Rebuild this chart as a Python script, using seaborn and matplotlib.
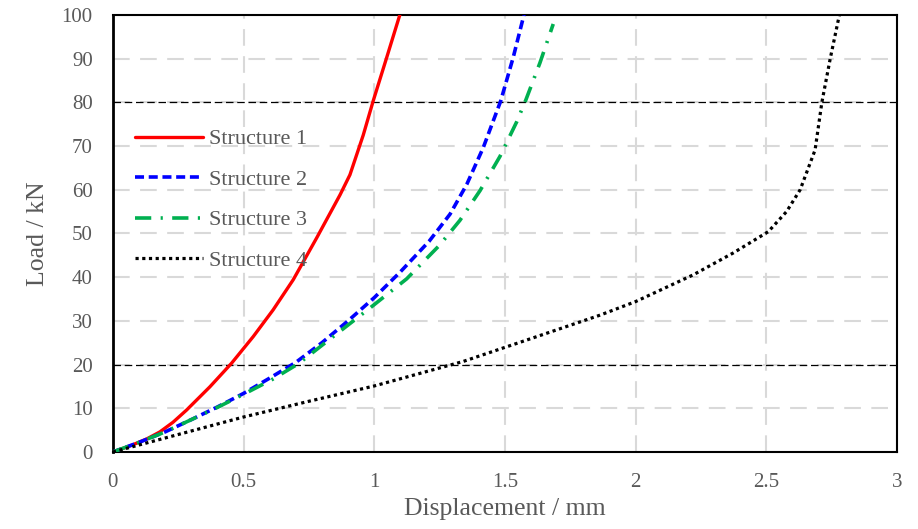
import numpy as np
import pandas as pd
import matplotlib
matplotlib.use("Agg")
import matplotlib.pyplot as plt
import seaborn as sns

# Load (kN) vs displacement (mm)
s1_disp = [0, 0.07, 0.13, 0.18, 0.23, 0.282, 0.371, 0.454, 0.537, 0.613, 0.69, 0.78, 0.869, 0.907, 0.958, 0.996, 1.047, 1.098]
s1_load = [0, 1.5, 3.0, 4.6, 6.8, 9.6, 14.9, 20.3, 26.4, 32.5, 39.4, 49.0, 58.8, 63.4, 72.5, 80.3, 90.1, 100]

s2_disp = [0, 0.1, 0.2, 0.3, 0.4, 0.5, 0.6, 0.7, 0.8, 0.9, 1.0, 1.1, 1.21, 1.29, 1.354, 1.417, 1.484, 1.532, 1.573]
s2_load = [0, 2.2, 4.6, 7.4, 10.3, 13.4, 16.9, 20.5, 25.0, 30.0, 35.3, 41.2, 48.2, 54.4, 61.2, 69.6, 80.3, 90.3, 100]

s3_disp = [0, 0.1, 0.2, 0.3, 0.4, 0.5, 0.61, 0.71, 0.83, 0.983, 1.124, 1.25, 1.328, 1.405, 1.481, 1.545, 1.58, 1.634, 1.685]
s3_load = [0, 2.2, 4.6, 7.4, 10.2, 13.2, 16.6, 20.2, 25.8, 32.9, 39.6, 47.3, 53.0, 59.8, 67.6, 75.5, 80.5, 89.0, 97.9]

s4_disp = [0, 0.25, 0.5, 0.75, 1.0, 1.34, 1.583, 1.864, 2.0, 2.22, 2.373, 2.508, 2.578, 2.63, 2.687, 2.713, 2.745, 2.78]
s4_load = [0, 4.0, 8.0, 11.6, 15.1, 20.7, 25.6, 31.3, 34.4, 40.5, 45.5, 50.4, 55.0, 60.0, 69.1, 80.0, 90.0, 100]

labels = ["Structure 1", "Structure 2", "Structure 3", "Structure 4"]
ref_loads = [20, 80]

sns.set_style("white")
plt.rcParams['font.family'] = ['Liberation Serif', 'DejaVu Serif']
grey = "#595959"

fig = plt.figure(figsize=(9.18, 5.29), dpi=100)
ax = fig.add_axes([0.123, 0.1456, 0.854, 0.8264])

ax.set_axisbelow(True)
ax.grid(True, color="#d9d9d9", linestyle=(0, (8, 5)), linewidth=1.5)

for y in ref_loads:
    ax.axhline(y, color="black", linestyle=(0, (6, 3)), linewidth=0.9, zorder=2)

styles = [
    dict(color="#ff0000", linestyle="-", linewidth=2.4),
    dict(color="#0000ff", linestyle=(0, (2.5, 1.3)), linewidth=2.6),
    dict(color="#00b050", linestyle=(0, (4.5, 2.6, 0.6, 2.6)), linewidth=2.6),
    dict(color="black", linestyle=(0, (1, 1.1)), linewidth=2.3),
]
series = [(s1_disp, s1_load), (s2_disp, s2_load), (s3_disp, s3_load), (s4_disp, s4_load)]

for (xd, yd), lab, st in zip(series, labels, styles):
    df = pd.DataFrame({"disp": xd, "load": yd})
    sns.lineplot(data=df, x="disp", y="load", sort=False, estimator=None,
                 ax=ax, label=lab, zorder=3, **st)

ax.set_xlim(0, 3)
ax.set_ylim(0, 100)
ax.set_xticks(np.arange(0, 3.01, 0.5))
ax.set_xticklabels(["0", "0.5", "1", "1.5", "2", "2.5", "3"])
ax.set_yticks(np.arange(0, 101, 10))
ax.tick_params(axis="both", labelsize=15, labelcolor=grey, length=0)
ax.tick_params(axis="x", pad=15)
ax.tick_params(axis="y", pad=14.5)
ax.set_xlabel("Displacement / mm", fontsize=18.5, color=grey)
ax.set_ylabel("Load / kN", fontsize=18.5, color=grey)
ax.xaxis.set_label_coords(0.5, -0.105)
ax.yaxis.set_label_coords(-0.082, 0.5)

for sp in ax.spines.values():
    sp.set_visible(True)
    sp.set_color("black")
    sp.set_linewidth(1.5)
ax.spines["left"].set_linewidth(2)

leg = ax.legend(loc="center left", bbox_to_anchor=(0.0166, 0.5767), frameon=False,
                fontsize=16, handlelength=3.06, labelspacing=0.9, handletextpad=0.28,
                borderaxespad=0)
for t in leg.get_texts():
    t.set_color(grey)

fig.savefig("out.png", dpi=100)
